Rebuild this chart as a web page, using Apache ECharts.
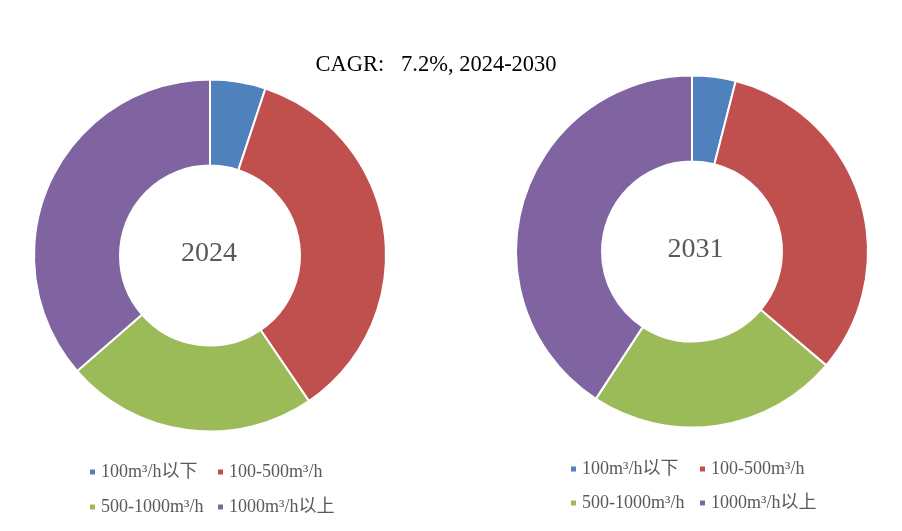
<!DOCTYPE html>
<html>
<head>
<meta charset="utf-8">
<script src="https://cdn.jsdelivr.net/npm/echarts@6/dist/echarts.min.js"></script>
<style>html,body{margin:0;padding:0;background:#fff}#c{width:902px;height:531px}</style>
</head>
<body>
<div id="c"></div>
<script>
var categories = ['100m³/h以下', '100-500m³/h', '500-1000m³/h', '1000m³/h以上'];
var share2024 = [5.1, 35.4, 23.1, 36.4];
var share2031 = [4.0, 32.2, 23.0, 40.8];
var yearLabels = ['2024', '2031'];
var titleText = 'CAGR:   7.2%, 2024-2030';
var colors = ['#4F81BD', '#C0504D', '#9BBB59', '#8064A2'];

var FONT = '"Liberation Serif", "Times New Roman", "Noto Sans CJK SC", serif';
var chart = echarts.init(document.getElementById('c'));

function mk(vals) { return categories.map(function (n, i) { return { name: n, value: vals[i] }; }); }

var legendPos = [
  [{ left: 88, top: 463 }, { left: 216, top: 463 }, { left: 88, top: 498 }, { left: 216, top: 498 }],
  [{ left: 569, top: 460 }, { left: 698, top: 460 }, { left: 569, top: 494 }, { left: 698, top: 494 }]
];
var legends = [];
legendPos.forEach(function (grp) {
  grp.forEach(function (p, i) {
    legends.push({
      left: p.left, top: p.top, orient: 'horizontal',
      data: [categories[i]], icon: 'rect', itemWidth: 7, itemHeight: 7,
      padding: 0, selectedMode: false,
      textStyle: { fontFamily: FONT, fontSize: 18, color: '#595959' }
    });
  });
});

function pie(center, vals) {
  return {
    type: 'pie', center: center, radius: [90, 176], startAngle: 90, clockwise: true,
    data: mk(vals), label: { show: false }, labelLine: { show: false },
    itemStyle: { borderColor: '#ffffff', borderWidth: 2 },
    emphasis: { disabled: true }, animation: false, silent: true
  };
}

function txt(x, y, s, size, color) {
  return { type: 'text', x: x, y: y, silent: true,
    style: { text: s, fontFamily: FONT, fontSize: size, fill: color,
      textAlign: 'center', textVerticalAlign: 'middle', align: 'center', verticalAlign: 'middle' } };
}

chart.setOption({
  color: colors,
  animation: false,
  legend: legends,
  series: [pie([210, 255.5], share2024), pie([692, 251.5], share2031)],
  graphic: [
    txt(436, 65, titleText, 22.5, '#000000'),
    txt(209, 254, yearLabels[0], 28, '#595959'),
    txt(695.5, 249.5, yearLabels[1], 28, '#595959')
  ]
});
</script>
</body>
</html>
